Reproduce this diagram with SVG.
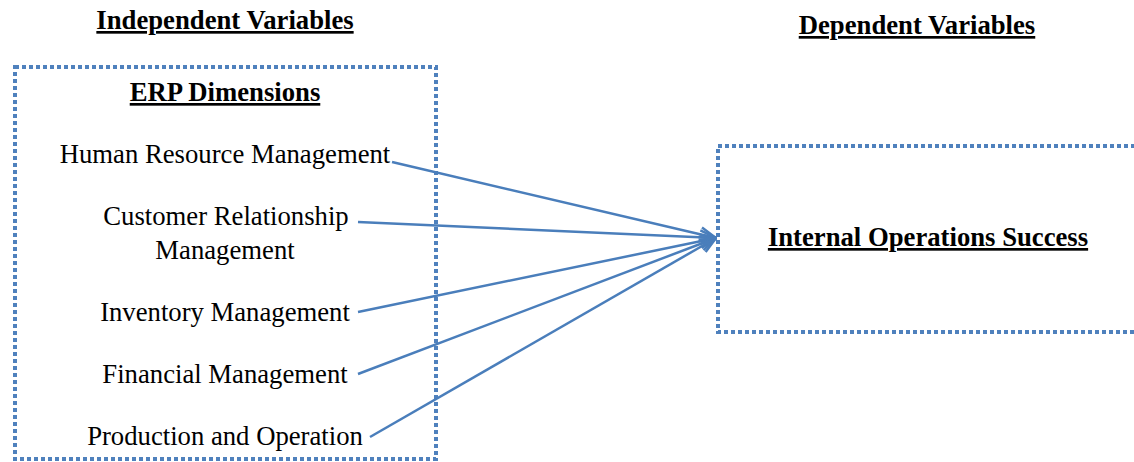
<svg xmlns="http://www.w3.org/2000/svg" width="1134" height="462" viewBox="0 0 1134 462">
<style>
.box{fill:none;stroke:#4f81bd;stroke-width:4;stroke-dasharray:4 3}
.t{font-family:"Liberation Serif","Times New Roman",serif;font-size:26.7px;fill:#000;text-anchor:middle}
.h{font-weight:bold;text-decoration:underline}
.c{fill:none;stroke:#4a7ebb;stroke-width:2.5}
</style>
<defs>
<marker id="arr" viewBox="0 0 18 18" refX="17" refY="9" markerWidth="18" markerHeight="18" markerUnits="userSpaceOnUse" orient="auto">
<path d="M1,2 L17,9 L1,16" fill="none" stroke="#4a7ebb" stroke-width="2.5"/>
</marker>
</defs>
<rect width="1134" height="462" fill="#fff"/>
<text class="t h" x="225" y="29">Independent Variables</text>
<text class="t h" x="917" y="34">Dependent Variables</text>
<g id="erp">
<rect class="box" x="15" y="67" width="421" height="392"/>
<text class="t h" x="225" y="101">ERP Dimensions</text>
</g>
<g id="hrm"><text class="t" x="225" y="163">Human Resource Management</text></g>
<g id="crm"><text class="t" x="226" y="225">Customer Relationship</text><text class="t" x="225" y="259">Management</text></g>
<g id="inv"><text class="t" x="225" y="321">Inventory Management</text></g>
<g id="fin"><text class="t" x="225" y="383">Financial Management</text></g>
<g id="prod"><text class="t" x="225" y="445">Production and Operation</text></g>
<g id="ios">
<rect class="box" x="718" y="146" width="430" height="186"/>
<text class="t h" x="928" y="246">Internal Operations Success</text>
</g>
<g id="connectors">
<line class="c" x1="392" y1="162" x2="716" y2="238" marker-end="url(#arr)"/>
<line class="c" x1="358" y1="222" x2="716" y2="238" marker-end="url(#arr)"/>
<line class="c" x1="358" y1="312" x2="716" y2="238" marker-end="url(#arr)"/>
<line class="c" x1="358" y1="374" x2="716" y2="238" marker-end="url(#arr)"/>
<line class="c" x1="370" y1="437" x2="716" y2="238" marker-end="url(#arr)"/>
</g>
</svg>
